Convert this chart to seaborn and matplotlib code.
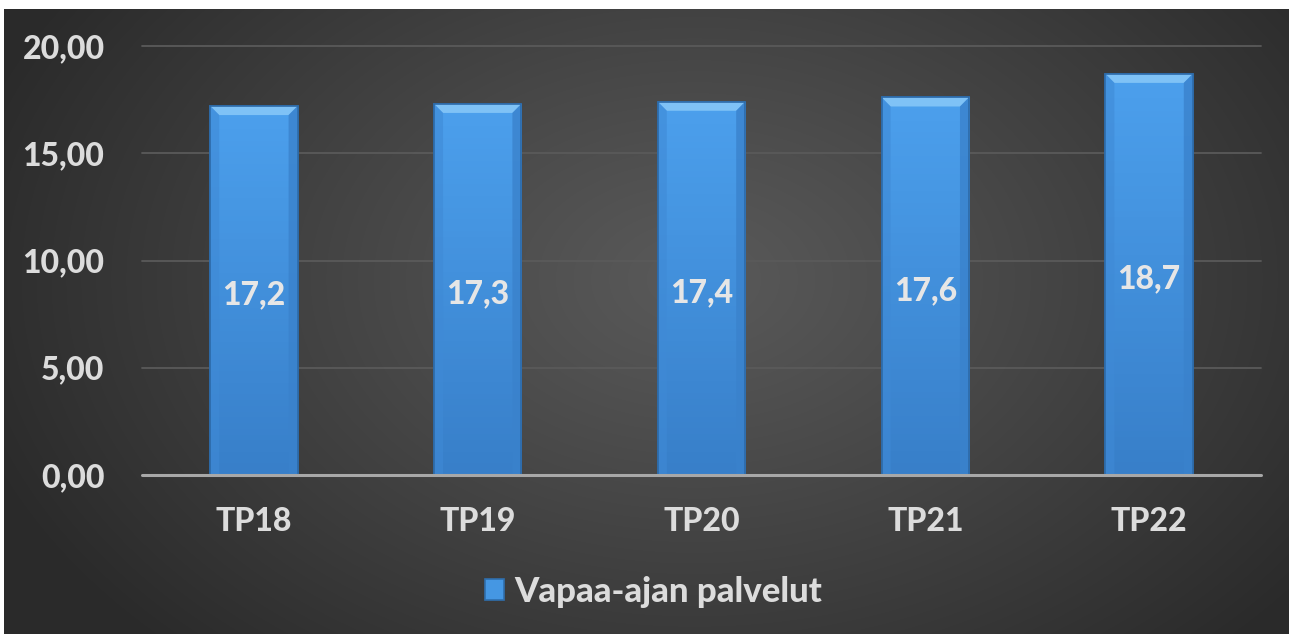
import numpy as np
import pandas as pd
import matplotlib
matplotlib.use("Agg")
import matplotlib.pyplot as plt
import seaborn as sns
from matplotlib.patches import Polygon, Rectangle

categories = ["TP18", "TP19", "TP20", "TP21", "TP22"]
values = [17.2, 17.3, 17.4, 17.6, 18.7]
series_name = "Vapaa-ajan palvelut"
yticks = [0, 5, 10, 15, 20]

sns.set_theme(style="dark")
plt.rcParams['font.family'] = ['Lato', 'DejaVu Sans']
FW = 900

W, H = 1289, 634
fig = plt.figure(figsize=(W / 100, H / 100), dpi=100)
fig.patch.set_facecolor("white")

# background with radial gradient
bg = fig.add_axes([4 / W, 0, (W - 4) / W, (H - 9) / H])
bg.set_axis_off()
yy, xx = np.mgrid[0:625, 0:1285]
cx, cy = 690, 270
d = np.sqrt(((xx - cx) / 760.0) ** 2 + ((yy - cy) / 520.0) ** 2)
d = np.clip(d, 0, 1)
light, dark = 0.35, 0.165
grad = light - (light - dark) * d ** 1.1
bg.imshow(np.dstack([grad, grad, grad]), aspect="auto", extent=[0, 1, 0, 1], origin="upper")
bg.set_xlim(0, 1)
bg.set_ylim(0, 1)

ax = fig.add_axes([142 / W, (H - 475) / H, (1261 - 142) / W, (475 - 46) / H])
ax.patch.set_alpha(0)
df = pd.DataFrame({"cat": categories, "val": values})
sns.barplot(data=df, x="cat", y="val", ax=ax, color="#4597e3", width=0.39,
            edgecolor="#2f6fae", linewidth=1.2, saturation=1, label=series_name)
ax.set_ylim(0, 20)
ax.set_xlim(-0.5, len(categories) - 0.5)
ax.set_yticks(yticks)
ax.set_yticklabels([f"{v:.2f}".replace(".", ",") for v in yticks])
ax.tick_params(axis="y", colors="#dcdcdc", labelsize=23, length=0, pad=27)
ax.tick_params(axis="x", colors="#dcdcdc", labelsize=23, length=0, pad=23)
for lab in ax.get_xticklabels() + ax.get_yticklabels():
    lab.set_fontweight(FW)
ax.set_xlabel("")
ax.set_ylabel("")
ax.grid(False)
for v in yticks[1:]:
    ax.axhline(v, color="#5a5a5a", lw=1.3, zorder=0.5, clip_on=False)
ax.axhline(0, color="#a8a8a8", lw=2.2, zorder=3, clip_on=False)
for s in ax.spines.values():
    s.set_visible(False)

# vertical gradient inside bars, bevel highlights and labels
shade = np.linspace(0, 1, 64).reshape(-1, 1)
top_c = np.array([0x4c, 0xa0, 0xed]) / 255
bot_c = np.array([0x38, 0x7f, 0xc9]) / 255
img = top_c * (1 - shade[..., None]) + bot_c * shade[..., None]
for p, v in zip(list(ax.patches), values):
    x0, w, h = p.get_x(), p.get_width(), p.get_height()
    z = p.get_zorder()
    im = ax.imshow(img, extent=[x0, x0 + w, 0, h], aspect="auto", origin="upper", zorder=z + 0.05)
    im.set_clip_path(p)
    bev_x = 0.04
    bev_y = 0.42
    top = Polygon([[x0, h], [x0 + w, h], [x0 + w - bev_x, h - bev_y], [x0 + bev_x, h - bev_y]],
                  closed=True, facecolor="#7fc2f6", edgecolor="none", zorder=z + 0.1)
    ax.add_patch(top)
    left = Polygon([[x0, h], [x0 + bev_x, h - bev_y], [x0 + bev_x, 0], [x0, 0]],
                   closed=True, facecolor="#3f8ad6", edgecolor="none", alpha=0.6, zorder=z + 0.1)
    right = Polygon([[x0 + w, h], [x0 + w - bev_x, h - bev_y], [x0 + w - bev_x, 0], [x0 + w, 0]],
                    closed=True, facecolor="#3a82cc", edgecolor="none", alpha=0.8, zorder=z + 0.1)
    ax.add_patch(left)
    ax.add_patch(right)
    ax.add_patch(Rectangle((x0, 0), w, h, facecolor="none", edgecolor="#2d6aa8",
                           lw=1.2, zorder=z + 0.2))
    ax.annotate(f"{v:.1f}".replace(".", ","), (x0 + w / 2, h / 2), xytext=(0, -3),
                textcoords="offset points", ha="center", va="center",
                color="#e6e6e6", fontsize=23, fontweight=FW, zorder=5)
ax.set_xlim(-0.5, len(categories) - 0.5)
ax.set_ylim(0, 20)

# legend
leg = ax.legend(loc="center", bbox_to_anchor=(0.457, -0.272), frameon=False,
                handlelength=0.55, handleheight=0.55, handletextpad=0.3,
                prop={"weight": FW, "size": 25})
for t in leg.get_texts():
    t.set_color("#dcdcdc")

fig.savefig("out.png", dpi=100, facecolor=fig.get_facecolor())
